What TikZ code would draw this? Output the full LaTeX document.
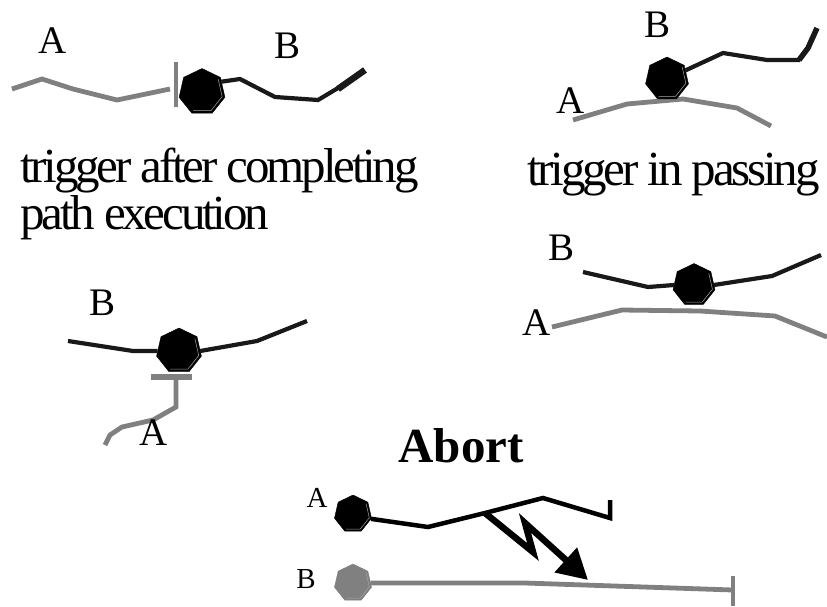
\documentclass[tikz,border=0pt]{standalone}
\usepackage{fontspec}
\setmainfont{Liberation Serif}
\newfontfamily\tightfont{Liberation Serif}[LetterSpace=-6.5]
\usetikzlibrary{shapes.geometric,arrows.meta,calc}
\definecolor{lgray}{RGB}{128,128,128}
\definecolor{dblack}{RGB}{25,25,25}
\tikzset{
  hepta/.style={regular polygon, regular polygon sides=7, fill=black, draw=black,
    inner sep=0pt, outer sep=0pt, minimum size=#1},
  grayline/.style={draw=lgray, line width=4.8pt, line join=miter},
  blackline/.style={draw=dblack, line width=4.2pt, line join=miter},
  lbl/.style={font=\fontsize{39}{39}\selectfont, anchor=base, inner sep=0pt},
  slbl/.style={font=\fontsize{29}{29}\selectfont, anchor=base, inner sep=0pt},
  caption/.style={font=\tightfont\fontsize{49}{49}\selectfont, anchor=base west, inner sep=0pt},
  hl/.style={draw=gray!70, line width=0.5pt},
}
\newcommand{\heptahl}[1]{%
  \draw[hl] ($(#1.corner 7)!0.12!(#1.center)$) -- ($(#1.corner 6)!0.12!(#1.center)$)
    -- ($(#1.corner 5)!0.12!(#1.center)$) -- ($(#1.corner 4)!0.12!(#1.center)$);}
\begin{document}
\begin{tikzpicture}[x=1pt,y=-1pt]
\useasboundingbox (0,0) rectangle (827,606);

% ---------- Panel 1: trigger after completing path execution
\draw[grayline] (12,89) -- (42,79) -- (73,89) -- (117,100) -- (170,89);
\coordinate (bar1t) at (176,62);
\coordinate (bar1b) at (176,107);
\draw[draw=lgray, line width=4pt] (bar1t) -- (bar1b);
\node[hepta=47pt] (h1) at (202,92) {};
\heptahl{h1}
\draw[blackline] (h1.28) -- (240,79) -- (275,97) -- (318,100) -- (338,88);
\draw[draw=dblack, line width=6.5pt] (338,89) -- (365,70);
\node[lbl] (a1) at (53,53) {A};
\node[lbl] (b1) at (288,58) {B};
\node[caption] (c1) at (20,182) {trigger after completing};
\node[caption] (c2) at (20,229) {path execution};

% ---------- Panel 2: trigger in passing
\draw[grayline] (573,120) -- (627,104) -- (683,99) -- (737,108) -- (771,126);
\node[hepta=44pt] (h2) at (667,79) {};
\heptahl{h2}
\draw[blackline] (h2.25) -- (723,53) -- (767,60) -- (800,60);
\draw[draw=dblack, line width=5.5pt, line join=miter] (799,60) -- (808,48) -- (817,28);
\node[lbl] (b2) at (657,37) {B};
\node[lbl] (a2) at (571,113) {A};
\node[caption] (c3) at (527,185) {trigger in passing};

% ---------- Panel 3
\node[hepta=46pt] (h3) at (179,351) {};
\heptahl{h3}
\draw[blackline] (68,341) -- (133,351) -- (h3.west);
\draw[blackline] (h3.east) -- (257,341) -- (307,321);
\draw[draw=lgray, line width=6pt] (151,377) -- (192,377);
\draw[grayline] (176,379) -- (176,407) -- (153,420) -- (122,427) -- (110,435) -- (105,445);
\node[lbl] (b3) at (103,315) {B};
\node[lbl] (a3) at (154,445) {A};

% ---------- Panel 4
\draw[grayline] (552,327) -- (622,310) -- (700,311) -- (775,316) -- (827,337);
\node[hepta=43pt] (h4) at (694,285) {};
\heptahl{h4}
\draw[blackline] (583,272) -- (648,287) -- (h4.west);
\draw[blackline] (h4.east) -- (772,276) -- (821,255);
\node[lbl] (b4) at (561,260) {B};
\node[lbl] (a4) at (537,335) {A};

% ---------- Abort
\node[font=\bfseries\fontsize{49}{49}\selectfont, anchor=base, inner sep=0pt] (ab) at (461,462) {Abort};
\node[hepta=38pt] (hA) at (353,514) {};
\heptahl{hA}
\coordinate (zz) at (485,513);
\draw[draw=black, line width=4.5pt, line join=miter] (hA.-15) -- (428,527) -- (zz) -- (543,498) -- (610,518) -- (610,500);
\draw[draw=black, line width=6.5pt, line join=miter, -{Triangle[length=30pt,width=32pt]}]
  (zz) -- (533,552) -- (525,523) -- (588,580);
\node[hepta=38pt, fill=lgray, draw=lgray] (hB) at (353,583) {};
\heptahl{hB}
\coordinate (endB) at (733,590);
\draw[grayline] (hB.east) -- (525,583) -- (endB);
\draw[draw=lgray, line width=4pt] (733,576) -- (733,606);
\node[slbl] (aA) at (317,507) {A};
\node[slbl] (bB) at (306,588) {B};
\end{tikzpicture}
\end{document}
